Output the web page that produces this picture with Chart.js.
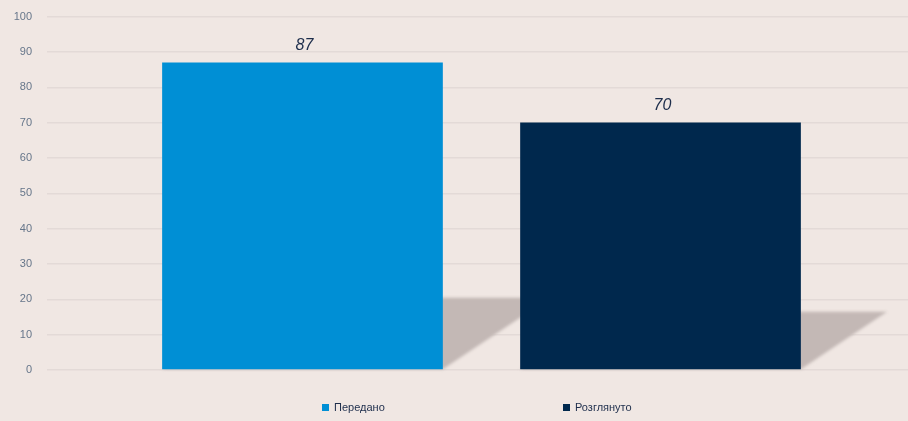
<!DOCTYPE html>
<html>
<head>
<meta charset="utf-8">
<script src="https://cdn.jsdelivr.net/npm/chart.js@4.4.1/dist/chart.umd.min.js"></script>
<style>
  html, body { margin: 0; padding: 0; background: #f0e7e3; }
  #wrap { position: relative; width: 908px; height: 421px; overflow: hidden; }
  #chartA { position: absolute; left: 0; top: -5px; }
  #legend { position: absolute; left: 0; top: 401px; width: 908px; height: 18px;
    font-family: "Liberation Sans", Arial, sans-serif; font-size: 11px; color: #1d2d4b; }
  #legend span { position: absolute; top: 0; white-space: nowrap; }
  #legend i { display: inline-block; width: 7px; height: 7px; margin-right: 5px; vertical-align: 0; }
</style>
</head>
<body>
<div id="wrap">
  <canvas id="chartA" width="916" height="426"></canvas>
  <div id="legend"></div>
</div>
<script>
var seriesNames = ['Передано', 'Розглянуто'];
var seriesValues = [87, 70];
var seriesColors = ['#008fd5', '#00284d'];
var yTicks = [0, 10, 20, 30, 40, 50, 60, 70, 80, 90, 100];

// floor shadow behind each bar, sized from the bar element itself
var shadowPlugin = {
  id: 'barShadow',
  beforeDatasetsDraw: function (chart) {
    var ctx = chart.ctx;
    ctx.save();
    ctx.filter = 'blur(1.5px)';
    ctx.fillStyle = '#c3b8b5';
    chart.data.datasets.forEach(function (ds, i) {
      var bar = chart.getDatasetMeta(i).data[0];
      var h = (bar.base - bar.y) * 0.233;
      var dx = h * 1.5;
      var l = bar.x - bar.width / 2, r = bar.x + bar.width / 2;
      ctx.beginPath();
      ctx.moveTo(l, bar.base);
      ctx.lineTo(r, bar.base);
      ctx.lineTo(r + dx, bar.base - h);
      ctx.lineTo(l + dx, bar.base - h);
      ctx.closePath();
      ctx.fill();
    });
    ctx.restore();
  },
  afterDatasetsDraw: function (chart) {
    var ctx = chart.ctx;
    ctx.save();
    ctx.font = 'italic 16px "Liberation Sans", Arial, sans-serif';
    ctx.fillStyle = '#1d2d4b';
    ctx.textAlign = 'center';
    ctx.textBaseline = 'middle';
    chart.data.datasets.forEach(function (ds, i) {
      var bar = chart.getDatasetMeta(i).data[0];
      ctx.fillText(ds.data[0], bar.x + 2, bar.y - 17);
    });
    ctx.restore();
  }
};

var datasets = seriesNames.map(function (name, i) {
  return {
    label: name,
    data: [seriesValues[i]],
    backgroundColor: seriesColors[i],
    borderColor: seriesColors[i],
    borderWidth: 0,
    categoryPercentage: 0.824,
    barPercentage: 0.784
  };
});

var ctx = document.getElementById('chartA').getContext('2d');
var chartA = new Chart(ctx, {
  type: 'bar',
  data: { labels: [''], datasets: datasets },
  options: {
    responsive: false,
    animation: false,
    layout: { padding: { left: 0, right: 0, top: -4, bottom: 51 } },
    plugins: {
      legend: { display: false },
      tooltip: { enabled: false }
    },
    scales: {
      x: { display: false },
      y: {
        min: 0,
        max: 100,
        afterBuildTicks: function (axis) {
          axis.ticks = yTicks.map(function (v) { return { value: v }; });
        },
        afterFit: function (axis) { axis.width = 47; },
        border: { display: false },
        grid: { color: '#e3dad7', lineWidth: 1.5, drawTicks: false },
        ticks: {
          padding: 15,
          color: '#66768a',
          font: { family: '"Liberation Sans", Arial, sans-serif', size: 11 }
        }
      }
    }
  },
  plugins: [shadowPlugin]
});

// legend below the plot
var legendPos = [322, 563];
var legend = document.getElementById('legend');
seriesNames.forEach(function (name, i) {
  var s = document.createElement('span');
  s.style.left = legendPos[i] + 'px';
  s.innerHTML = '<i style="background:' + seriesColors[i] + '"></i>' + name;
  legend.appendChild(s);
});
</script>
</body>
</html>
